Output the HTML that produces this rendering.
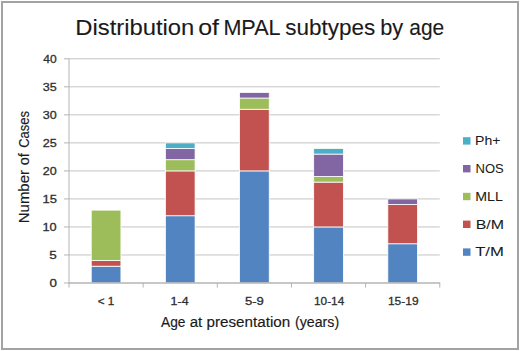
<!DOCTYPE html>
<html><head><meta charset="utf-8"><style>
html,body{margin:0;padding:0;background:#fff;}
body{width:520px;height:351px;overflow:hidden;}
svg{display:block;}
.t{font-family:"Liberation Sans",sans-serif;fill:#1a1a1a;stroke:#1a1a1a;stroke-width:0.3px;}
#t1,#t2,#t3,#t4,#t5,#t6{stroke-width:0.12px;}
.s{fill:#2e2e2e;stroke:#2e2e2e;}
#l0,#l1,#l2,#l3,#l4{stroke-width:0.05px;}
#a1,#a2,#a3,#a4,#n1,#n2,#n3{stroke-width:0.15px;}
</style></head><body>
<svg width="520" height="351" viewBox="0 0 520 351">
<rect width="520" height="351" fill="#fff"/>
<rect x="2" y="2" width="516" height="347" fill="none" stroke="#a3a3a3" stroke-width="2"/>
<line x1="69.00" y1="254.97" x2="439.75" y2="254.97" stroke="#c4c4c4" stroke-width="1"/>
<line x1="69.00" y1="226.95" x2="439.75" y2="226.95" stroke="#c4c4c4" stroke-width="1"/>
<line x1="69.00" y1="198.93" x2="439.75" y2="198.93" stroke="#c4c4c4" stroke-width="1"/>
<line x1="69.00" y1="170.90" x2="439.75" y2="170.90" stroke="#c4c4c4" stroke-width="1"/>
<line x1="69.00" y1="142.88" x2="439.75" y2="142.88" stroke="#c4c4c4" stroke-width="1"/>
<line x1="69.00" y1="114.85" x2="439.75" y2="114.85" stroke="#c4c4c4" stroke-width="1"/>
<line x1="69.00" y1="86.82" x2="439.75" y2="86.82" stroke="#c4c4c4" stroke-width="1"/>
<line x1="69.00" y1="58.80" x2="439.75" y2="58.80" stroke="#c4c4c4" stroke-width="1"/>
<line x1="64" y1="283.00" x2="69.00" y2="283.00" stroke="#b4b4b4" stroke-width="1"/>
<line x1="64" y1="254.97" x2="69.00" y2="254.97" stroke="#b4b4b4" stroke-width="1"/>
<line x1="64" y1="226.95" x2="69.00" y2="226.95" stroke="#b4b4b4" stroke-width="1"/>
<line x1="64" y1="198.93" x2="69.00" y2="198.93" stroke="#b4b4b4" stroke-width="1"/>
<line x1="64" y1="170.90" x2="69.00" y2="170.90" stroke="#b4b4b4" stroke-width="1"/>
<line x1="64" y1="142.88" x2="69.00" y2="142.88" stroke="#b4b4b4" stroke-width="1"/>
<line x1="64" y1="114.85" x2="69.00" y2="114.85" stroke="#b4b4b4" stroke-width="1"/>
<line x1="64" y1="86.82" x2="69.00" y2="86.82" stroke="#b4b4b4" stroke-width="1"/>
<line x1="64" y1="58.80" x2="69.00" y2="58.80" stroke="#b4b4b4" stroke-width="1"/>
<rect x="91.23" y="266.19" width="29.70" height="16.81" fill="#5184C0" stroke="#fff" stroke-width="0.8"/>
<rect x="91.23" y="260.58" width="29.70" height="5.61" fill="#C25250" stroke="#fff" stroke-width="0.8"/>
<rect x="91.23" y="210.13" width="29.70" height="50.44" fill="#9DBD5B" stroke="#fff" stroke-width="0.8"/>
<rect x="165.38" y="215.74" width="29.70" height="67.26" fill="#5184C0" stroke="#fff" stroke-width="0.8"/>
<rect x="165.38" y="170.90" width="29.70" height="44.84" fill="#C25250" stroke="#fff" stroke-width="0.8"/>
<rect x="165.38" y="159.69" width="29.70" height="11.21" fill="#9DBD5B" stroke="#fff" stroke-width="0.8"/>
<rect x="165.38" y="148.48" width="29.70" height="11.21" fill="#8166A3" stroke="#fff" stroke-width="0.8"/>
<rect x="165.38" y="142.88" width="29.70" height="5.60" fill="#4DAEC8" stroke="#fff" stroke-width="0.8"/>
<rect x="239.53" y="170.90" width="29.70" height="112.10" fill="#5184C0" stroke="#fff" stroke-width="0.8"/>
<rect x="239.53" y="109.24" width="29.70" height="61.66" fill="#C25250" stroke="#fff" stroke-width="0.8"/>
<rect x="239.53" y="98.03" width="29.70" height="11.21" fill="#9DBD5B" stroke="#fff" stroke-width="0.8"/>
<rect x="239.53" y="92.43" width="29.70" height="5.61" fill="#8166A3" stroke="#fff" stroke-width="0.8"/>
<rect x="313.68" y="226.95" width="29.70" height="56.05" fill="#5184C0" stroke="#fff" stroke-width="0.8"/>
<rect x="313.68" y="182.11" width="29.70" height="44.84" fill="#C25250" stroke="#fff" stroke-width="0.8"/>
<rect x="313.68" y="176.50" width="29.70" height="5.60" fill="#9DBD5B" stroke="#fff" stroke-width="0.8"/>
<rect x="313.68" y="154.08" width="29.70" height="22.42" fill="#8166A3" stroke="#fff" stroke-width="0.8"/>
<rect x="313.68" y="148.48" width="29.70" height="5.60" fill="#4DAEC8" stroke="#fff" stroke-width="0.8"/>
<rect x="387.82" y="243.76" width="29.70" height="39.24" fill="#5184C0" stroke="#fff" stroke-width="0.8"/>
<rect x="387.82" y="204.53" width="29.70" height="39.23" fill="#C25250" stroke="#fff" stroke-width="0.8"/>
<rect x="387.82" y="198.93" width="29.70" height="5.60" fill="#8166A3" stroke="#fff" stroke-width="0.8"/>
<line x1="69.00" y1="58.80" x2="69.00" y2="283.00" stroke="#b4b4b4" stroke-width="1"/>
<line x1="68.50" y1="283.00" x2="440.25" y2="283.00" stroke="#b4b4b4" stroke-width="1.3"/>
<line x1="69.00" y1="283.00" x2="69.00" y2="287.6" stroke="#b4b4b4" stroke-width="1"/>
<line x1="143.15" y1="283.00" x2="143.15" y2="287.6" stroke="#b4b4b4" stroke-width="1"/>
<line x1="217.30" y1="283.00" x2="217.30" y2="287.6" stroke="#b4b4b4" stroke-width="1"/>
<line x1="291.45" y1="283.00" x2="291.45" y2="287.6" stroke="#b4b4b4" stroke-width="1"/>
<line x1="365.60" y1="283.00" x2="365.60" y2="287.6" stroke="#b4b4b4" stroke-width="1"/>
<line x1="439.75" y1="283.00" x2="439.75" y2="287.6" stroke="#b4b4b4" stroke-width="1"/>
<text id="t1" x="75.25" y="35.20" class="t" font-size="22.4" textLength="119.11" lengthAdjust="spacingAndGlyphs">Distribution</text>
<text id="t2" x="198.24" y="35.20" class="t" font-size="22.4" textLength="20.81" lengthAdjust="spacingAndGlyphs">of</text>
<text id="t3" x="223.38" y="35.20" class="t" font-size="22.4" textLength="57.19" lengthAdjust="spacingAndGlyphs">MPAL</text>
<text id="t4" x="285.37" y="35.20" class="t" font-size="22.4" textLength="89.98" lengthAdjust="spacingAndGlyphs">subtypes</text>
<text id="t5" x="380.23" y="35.20" class="t" font-size="22.4" textLength="22.97" lengthAdjust="spacingAndGlyphs">by</text>
<text id="t6" x="409.24" y="35.20" class="t" font-size="22.4" textLength="34.94" lengthAdjust="spacingAndGlyphs">age</text>
<text id="a1" x="161.01" y="327.10" class="t" font-size="14" textLength="24.52" lengthAdjust="spacingAndGlyphs">Age</text>
<text id="a2" x="189.70" y="327.10" class="t" font-size="14" textLength="12.58" lengthAdjust="spacingAndGlyphs">at</text>
<text id="a3" x="206.51" y="327.10" class="t" font-size="14" textLength="83.76" lengthAdjust="spacingAndGlyphs">presentation</text>
<text id="a4" x="294.98" y="327.10" class="t" font-size="14" textLength="44.17" lengthAdjust="spacingAndGlyphs">(years)</text>
<text id="n1" transform="translate(28.50,0) rotate(-90)" x="-223.19" y="0" class="t" font-size="14" textLength="53.10" lengthAdjust="spacingAndGlyphs">Number</text>
<text id="n2" transform="translate(28.50,0) rotate(-90)" x="-165.33" y="0" class="t" font-size="14" textLength="12.13" lengthAdjust="spacingAndGlyphs">of</text>
<text id="n3" transform="translate(28.50,0) rotate(-90)" x="-147.84" y="0" class="t" font-size="14" textLength="36.81" lengthAdjust="spacingAndGlyphs">Cases</text>
<text id="l0" x="475.03" y="145.10" class="t" font-size="13.5" textLength="25.37" lengthAdjust="spacingAndGlyphs">Ph+</text>
<text id="l1" x="475.61" y="172.90" class="t" font-size="13.5" textLength="28.19" lengthAdjust="spacingAndGlyphs">NOS</text>
<text id="l2" x="475.30" y="200.70" class="t" font-size="13.5" textLength="27.55" lengthAdjust="spacingAndGlyphs">MLL</text>
<text id="l3" x="475.68" y="228.50" class="t" font-size="13.5" textLength="28.32" lengthAdjust="spacingAndGlyphs">B/M</text>
<text id="l4" x="475.20" y="256.30" class="t" font-size="13.5" textLength="28.70" lengthAdjust="spacingAndGlyphs">T/M</text>
<text id="x0" x="97.66" y="304.60" class="t s" font-size="11.5" textLength="16.48" lengthAdjust="spacingAndGlyphs">&lt; 1</text>
<text id="x1" x="170.57" y="304.60" class="t s" font-size="11.5" textLength="18.02" lengthAdjust="spacingAndGlyphs">1-4</text>
<text id="x2" x="244.90" y="304.60" class="t s" font-size="11.5" textLength="18.94" lengthAdjust="spacingAndGlyphs">5-9</text>
<text id="x3" x="314.03" y="304.60" class="t s" font-size="11.5" textLength="30.19" lengthAdjust="spacingAndGlyphs">10-14</text>
<text id="x4" x="387.97" y="304.60" class="t s" font-size="11.5" textLength="30.58" lengthAdjust="spacingAndGlyphs">15-19</text>
<text id="y0" x="49.45" y="286.95" class="t s" font-size="11.5" textLength="7.43" lengthAdjust="spacingAndGlyphs">0</text>
<text id="y1" x="49.18" y="258.93" class="t s" font-size="11.5" textLength="7.53" lengthAdjust="spacingAndGlyphs">5</text>
<text id="y2" x="42.50" y="230.90" class="t s" font-size="11.5" textLength="14.18" lengthAdjust="spacingAndGlyphs">10</text>
<text id="y3" x="42.50" y="202.88" class="t s" font-size="11.5" textLength="14.46" lengthAdjust="spacingAndGlyphs">15</text>
<text id="y4" x="42.79" y="174.85" class="t s" font-size="11.5" textLength="13.93" lengthAdjust="spacingAndGlyphs">20</text>
<text id="y5" x="42.78" y="146.82" class="t s" font-size="11.5" textLength="14.08" lengthAdjust="spacingAndGlyphs">25</text>
<text id="y6" x="42.76" y="118.80" class="t s" font-size="11.5" textLength="13.94" lengthAdjust="spacingAndGlyphs">30</text>
<text id="y7" x="42.71" y="90.77" class="t s" font-size="11.5" textLength="13.98" lengthAdjust="spacingAndGlyphs">35</text>
<text id="y8" x="43.25" y="62.75" class="t s" font-size="11.5" textLength="13.40" lengthAdjust="spacingAndGlyphs">40</text>
<rect x="463.0" y="137.20" width="7.5" height="7.4" fill="#4DAEC8"/>
<rect x="463.0" y="165.00" width="7.5" height="7.4" fill="#8166A3"/>
<rect x="463.0" y="192.80" width="7.5" height="7.4" fill="#9DBD5B"/>
<rect x="463.0" y="220.60" width="7.5" height="7.4" fill="#C25250"/>
<rect x="463.0" y="248.40" width="7.5" height="7.4" fill="#5184C0"/>
</svg>
</body></html>
